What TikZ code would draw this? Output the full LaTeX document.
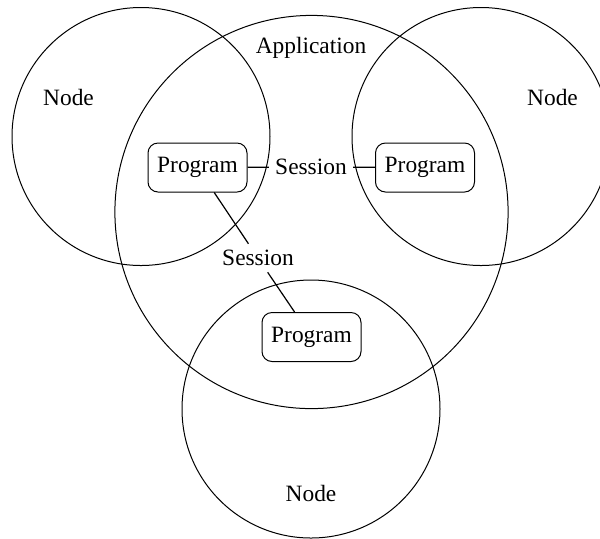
\documentclass[tikz,border=0pt]{standalone}
\usepackage{fontspec}
\setmainfont{Liberation Serif}
\begin{document}
\begin{tikzpicture}[x=0.5pt,y=-0.5pt,
  every node/.style={font=\fontsize{11.7}{14}\selectfont},
  area/.style={draw,line width=0.5pt},
  prog/.style={draw,line width=0.5pt,rounded corners=5pt,minimum width=49.5pt,minimum height=24.5pt,inner sep=0pt},
  sess/.style={inner sep=3pt},
  link/.style={line width=0.6pt}]
\useasboundingbox (0,0) rectangle (600,538);
% areas: three nodes and the application
\draw[area] (141,136.5) circle[radius=64.5pt];
\draw[area] (481,136.5) circle[radius=64.5pt];
\draw[area] (311,409) circle[radius=64.5pt];
\draw[area] (311.5,212) circle[radius=98.3pt];
% area labels
\node (nl) at (68.5,97) {Node};
\node (nr) at (552.5,97) {Node};
\node (nb) at (311,493) {Node};
\node (app) at (311,48) {Application};
% programs
\node[prog] (p1) at (197.5,167.5) {Program};
\node[prog] (p2) at (425,167.5) {Program};
\node[prog] (p3) at (311.5,337) {Program};
% sessions
\node[sess] (s1) at (311,167) {Session};
\node[sess] (s2) at (258,258) {Session};
\draw[link] (p1) -- (s1);
\draw[link] (s1) -- (p2);
\draw[link] (p1) -- (s2);
\draw[link] (s2) -- (p3);
\end{tikzpicture}
\end{document}
